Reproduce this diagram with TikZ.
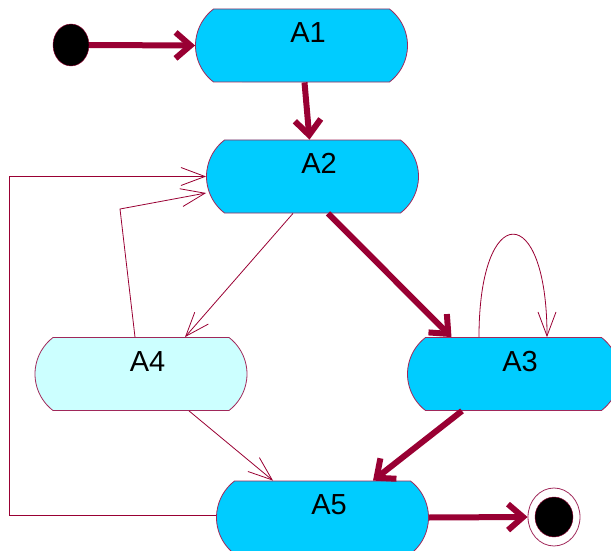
\documentclass[tikz,border=0pt]{standalone}
\usepackage{fontspec}
\setmainfont{Liberation Sans}
\usetikzlibrary{shapes.misc, shapes.geometric, arrows.meta}

\definecolor{actfill}{RGB}{0,204,255}
\definecolor{palefill}{RGB}{204,255,255}
\definecolor{wine}{RGB}{153,0,51}
\definecolor{rim}{RGB}{160,40,90}

\begin{document}
\begin{tikzpicture}[x=1pt, y=-1pt,
        activity/.style={rounded rectangle, rounded rectangle arc length=105, draw=rim, line width=0.8pt,
            fill=actfill, minimum width=212pt, minimum height=73pt, inner sep=0pt,
            font=\fontsize{29}{31}\selectfont, text height=21pt, text depth=27pt,
            execute at begin node={\hspace*{13pt}}},
        flow/.style={draw=wine, line width=6pt, -{Straight Barb[length=15pt, width=26pt]}},
        thinflow/.style={draw=wine, line width=0.8pt, -{Straight Barb[length=24pt, width=18pt]}}]
        \useasboundingbox (0,0) rectangle (611,551);

        \node[ellipse, draw=wine, fill=black, minimum width=36pt, minimum height=42pt, inner sep=0pt] (init) at (71, 45) {};
        \node[activity] (a1) at (301.5, 45.5) {A1};
        \node[activity] (a2) at (312.5, 176.5) {A2};
        \node[activity, fill=palefill] (a4) at (141, 374) {A4};
        \node[activity] (a3) at (513.5, 374) {A3};
        \node[activity] (a5) at (322.5, 517.5) {A5};
        \node[ellipse, draw=rim, fill=white, line width=0.8pt, minimum width=52pt, minimum height=58pt, inner sep=0pt] (stop) at (554, 517) {};
        \node[ellipse, draw=wine, fill=black, minimum width=38pt, minimum height=40pt, inner sep=0pt] (stopdot) at (stop) {};
        \coordinate (bend) at (120, 209);

        \draw[flow] (init.east) to (a1.west);
        \draw[flow] ([xshift=3pt]a1.south) to ([xshift=-3pt]a2.north);
        \draw[flow] ([xshift=15.5pt]a2.south) to ([xshift=-62pt]a3.north);
        \draw[flow] ([xshift=-51.5pt]a3.south) to ([xshift=50.5pt]a5.north);
        \draw[flow] (a5.east) to (stop.west);

        \draw[thinflow] ([xshift=-19.5pt]a2.south) to ([xshift=44pt]a4.north);
        \draw[thinflow] ([xshift=48pt]a4.south) to ([xshift=-49.5pt]a5.north);
        \draw[thinflow] ([xshift=-6pt]a4.north) -- (bend) -- ([yshift=-16.5pt]a2.west);
        \draw[thinflow] ([yshift=2pt]a5.west) -- ++(-207, 0) |- (a2.west);
        \draw[thinflow] ([xshift=-34.5pt]a3.north) .. controls +(0,-137) and +(0,-137) .. ([xshift=33.5pt]a3.north);
    \end{tikzpicture}
\end{document}
